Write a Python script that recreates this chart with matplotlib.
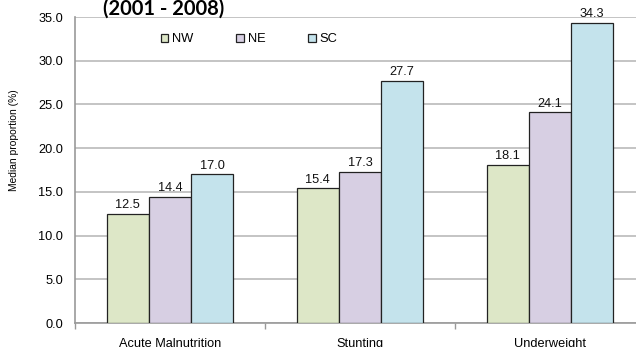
import numpy as np
import matplotlib
matplotlib.use('Agg')
import matplotlib.pyplot as plt

categories = ['Acute Malnutrition', 'Stunting', 'Underweight']
regions = ['NW', 'NE', 'SC']
nw = [12.5, 15.4, 18.1]
ne = [14.4, 17.3, 24.1]
sc = [17.0, 27.7, 34.3]
yticks = [0, 5, 10, 15, 20, 25, 30, 35]

colors = ['#dde7c7', '#d7cfe3', '#c4e3ec']

plt.rcParams['font.family'] = ['Liberation Sans', 'DejaVu Sans']

fig = plt.figure(figsize=(6.36, 3.47), dpi=100)
ax = fig.add_axes([75 / 636, 24 / 347, 570 / 636, 306 / 347])

x = np.arange(len(categories))
width = 0.222
for i, (vals, col) in enumerate(zip([nw, ne, sc], colors)):
    pos = x + (i - 1) * width
    ax.bar(pos, vals, width, color=col, edgecolor='#222222',
           linewidth=0.9, label=regions[i], zorder=3)
    for p, v in zip(pos, vals):
        ax.text(p, v + 0.3, f'{v:.1f}', ha='center', va='bottom',
                fontsize=9.2, color='#111111', zorder=4)

ax.set_xlim(-0.5, len(categories) - 0.5)
ax.set_ylim(0, 35)
ax.set_yticks(yticks)
ax.set_yticklabels([f'{t:.1f}' for t in yticks], fontsize=9.2)
ax.yaxis.grid(True, color='#bfbfbf', linewidth=1.3, zorder=0)
ax.tick_params(axis='y', length=0, pad=8.5)

# category labels between boundary ticks, Excel style
ax.set_xticks(x)
ax.set_xticklabels(categories, fontsize=9.2)
ax.tick_params(axis='x', length=0, pad=10.5)
ax.set_xticks(np.arange(len(categories)) - 0.5, minor=True)
ax.tick_params(axis='x', which='minor', length=4, color='#999999', width=1)

for s in ['top', 'right']:
    ax.spines[s].set_visible(False)
ax.spines['left'].set_color('#999999')
ax.spines['bottom'].set_color('#999999')
ax.spines['left'].set_linewidth(1.2)
ax.spines['bottom'].set_linewidth(1.2)

ax.set_ylabel('Median proportion (%)', fontsize=7.4)
ax.yaxis.set_label_coords(-0.098, 0.598)

ax.legend(loc='upper left', bbox_to_anchor=(0.13, 0.985), ncol=3,
          frameon=False, fontsize=9.3, handlelength=0.6,
          handleheight=0.6, handletextpad=0.3, columnspacing=3.3)

# title is cut by the top edge, only its second line shows
fig.text(103 / 636, 1 - 15 / 347, '(2001 - 2008)', fontsize=14.5,
         fontweight='bold', family=['Lato', 'DejaVu Sans'],
         ha='left', va='baseline')

fig.savefig('out.png', dpi=100)
